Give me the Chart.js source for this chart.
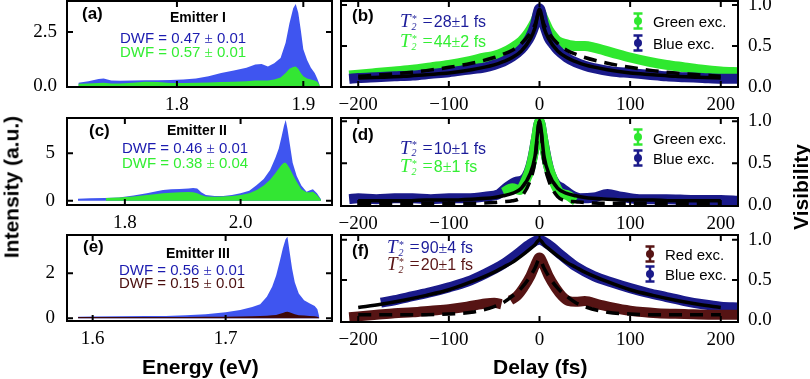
<!DOCTYPE html>
<html><head><meta charset="utf-8">
<script src="https://cdn.jsdelivr.net/npm/chart.js@4"></script>
<style>
html,body{margin:0;padding:0;background:#fff}
body{width:810px;height:379px;position:relative;overflow:hidden;font-family:"Liberation Sans",Arial,sans-serif}
.box{position:absolute}
.t{position:absolute;white-space:nowrap;line-height:1;transform:translateY(-50%);z-index:5}
.lab{font-weight:bold;font-size:17px;color:#000}
.em{font-weight:bold;font-size:14px;color:#000}
.dwf{font-size:15px}
.sf{font-family:"Liberation Serif",serif}
.t2{font-size:16px}
.T{font-family:"Liberation Serif",serif;font-style:italic;font-size:19px}
.ss{display:inline-flex;flex-direction:column;font-family:"Liberation Serif",serif;font-size:10px;line-height:8px;vertical-align:middle;margin-left:1px;margin-right:6px;font-style:italic}
.eq{font-family:"Liberation Serif",serif;font-size:18px;margin-right:1px}
.leg{font-size:15px;color:#000}
.ax{font-weight:bold;font-size:21px;color:#000}
.rot{transform:translate(-50%,-50%) rotate(-90deg)}
svg.g{position:absolute;z-index:5}
</style></head>
<body>
<div class="box" style="left:0;top:-11px;width:340px;height:128px"><canvas id="ca"></canvas></div>
<div class="box" style="left:0;top:106px;width:340px;height:129px"><canvas id="cc"></canvas></div>
<div class="box" style="left:0;top:223px;width:340px;height:128px"><canvas id="ce"></canvas></div>
<div class="box" style="left:335px;top:-11px;width:450px;height:128px"><canvas id="cb"></canvas></div>
<div class="box" style="left:335px;top:106px;width:450px;height:130px"><canvas id="cd"></canvas></div>
<div class="box" style="left:335px;top:223px;width:450px;height:129px"><canvas id="cf"></canvas></div>

<!-- left panel texts -->
<div class="t lab" style="left:82px;top:13px">(a)</div>
<div class="t em" style="left:170px;top:17px">Emitter I</div>
<div class="t dwf" style="left:120px;top:38px;color:#1c1cb0">DWF = 0.47 <span class="sf">±</span> 0.01</div>
<div class="t dwf" style="left:120px;top:52px;color:#33ee33">DWF = 0.57 <span class="sf">±</span> 0.01</div>

<div class="t lab" style="left:89px;top:130px">(c)</div>
<div class="t em" style="left:167px;top:130px">Emitter II</div>
<div class="t dwf" style="left:122px;top:147.5px;color:#1c1cb0">DWF = 0.46 <span class="sf">±</span> 0.01</div>
<div class="t dwf" style="left:122px;top:162.5px;color:#33ee33">DWF = 0.38 <span class="sf">±</span> 0.04</div>

<div class="t lab" style="left:83px;top:246px">(e)</div>
<div class="t em" style="left:166px;top:253px">Emitter III</div>
<div class="t dwf" style="left:119px;top:270px;color:#1c1cb0">DWF = 0.56 <span class="sf">±</span> 0.01</div>
<div class="t dwf" style="left:119px;top:283px;color:#4a0e0e">DWF = 0.15 <span class="sf">±</span> 0.01</div>

<!-- right panel texts -->
<div class="t lab" style="left:352px;top:15px">(b)</div>
<div class="t t2" style="left:400px;top:21px;color:#1c1c9a"><span class="T">T</span><span class="ss"><span>*</span><span>2</span></span><span class="eq">=</span>28<span class="sf">±</span>1 fs</div>
<div class="t t2" style="left:400px;top:41px;color:#33ee33"><span class="T">T</span><span class="ss"><span>*</span><span>2</span></span><span class="eq">=</span>44<span class="sf">±</span>2 fs</div>
<div class="t leg" style="left:653px;top:21px">Green exc.</div>
<div class="t leg" style="left:653px;top:42.5px">Blue exc.</div>

<div class="t lab" style="left:352px;top:134px">(d)</div>
<div class="t t2" style="left:400px;top:147.5px;color:#1c1c9a"><span class="T">T</span><span class="ss"><span>*</span><span>2</span></span><span class="eq">=</span>10<span class="sf">±</span>1 fs</div>
<div class="t t2" style="left:400px;top:166px;color:#33ee33"><span class="T">T</span><span class="ss"><span>*</span><span>2</span></span><span class="eq">=</span>8<span class="sf">±</span>1 fs</div>
<div class="t leg" style="left:653px;top:137.5px">Green exc.</div>
<div class="t leg" style="left:653px;top:158px">Blue exc.</div>

<div class="t lab" style="left:352px;top:250px">(f)</div>
<div class="t t2" style="left:387px;top:247px;color:#1c1c9a"><span class="T">T</span><span class="ss"><span>*</span><span>2</span></span><span class="eq">=</span>90<span class="sf">±</span>4 fs</div>
<div class="t t2" style="left:387px;top:264px;color:#5a1515"><span class="T">T</span><span class="ss"><span>*</span><span>2</span></span><span class="eq">=</span>20<span class="sf">±</span>1 fs</div>
<div class="t leg" style="left:665px;top:254px">Red exc.</div>
<div class="t leg" style="left:665px;top:274px">Blue exc.</div>

<!-- axis titles -->
<div class="t ax rot" style="left:11px;top:187px">Intensity (a.u.)</div>
<div class="t ax rot" style="left:800px;top:187px">Visibility</div>
<div class="t ax" style="left:142px;top:366px">Energy (eV)</div>
<div class="t ax" style="left:493px;top:366px">Delay (fs)</div>

<script>
// ================= DATA =================
// Panel (a) Emitter I spectra
const energyA = [1.722,1.730,1.738,1.742,1.748,1.755,1.765,1.775,1.785,1.795,1.805,1.815,1.825,1.835,1.845,1.855,1.862,1.867,1.872,1.877,1.882,1.886,1.889,1.892,1.894,1.896,1.898,1.900,1.903,1.906,1.909,1.911,1.913];
const blueA   = [0.15,0.22,0.33,0.35,0.25,0.24,0.25,0.27,0.27,0.28,0.30,0.35,0.45,0.60,0.72,0.85,1.00,1.02,0.90,1.05,1.30,2.00,2.90,3.60,3.80,3.40,2.60,1.70,1.20,0.85,0.60,0.35,0.05];
const greenA  = [0.10,0.12,0.14,0.15,0.12,0.12,0.15,0.20,0.18,0.14,0.14,0.15,0.16,0.18,0.20,0.22,0.25,0.25,0.26,0.30,0.40,0.60,0.80,0.88,0.90,0.80,0.60,0.45,0.35,0.30,0.25,0.20,0.03];
// Panel (c) Emitter II spectra
const energyCBlue = [1.719,1.740,1.765,1.790,1.815,1.838,1.855,1.866,1.880,1.895,1.910,1.918,1.925,1.932,1.940,1.955,1.970,1.985,2.000,2.015,2.028,2.040,2.051,2.060,2.066,2.071,2.075,2.078,2.081,2.085,2.090,2.097,2.105,2.114,2.120,2.125,2.132,2.139];
const blueC       = [0.20,0.25,0.30,0.35,0.55,0.78,1.00,1.13,1.20,1.23,1.30,1.34,1.30,0.90,0.60,0.50,0.50,0.60,0.78,1.05,1.65,2.30,3.24,4.50,5.50,6.80,7.90,8.50,7.60,6.00,4.00,2.60,1.60,0.95,1.10,1.20,0.78,0.15];
const energyCGreen = [1.767,1.790,1.815,1.838,1.855,1.866,1.880,1.895,1.910,1.918,1.925,1.932,1.940,1.955,1.970,1.985,2.000,2.015,2.028,2.040,2.051,2.060,2.066,2.071,2.075,2.078,2.081,2.085,2.090,2.097,2.105,2.114,2.120,2.125,2.132,2.139];
const greenC       = [0.30,0.35,0.45,0.60,0.70,0.78,0.85,0.90,0.92,0.90,0.80,0.60,0.45,0.42,0.45,0.50,0.60,0.80,1.13,1.60,2.20,2.90,3.40,3.80,4.00,4.00,3.80,3.40,2.80,2.00,1.20,0.90,0.90,0.95,0.60,0.10];
// Panel (e) Emitter III spectra
const energyE = [1.589,1.600,1.620,1.640,1.655,1.670,1.685,1.700,1.711,1.720,1.726,1.731,1.735,1.738,1.741,1.743,1.745,1.7465,1.748,1.750,1.752,1.755,1.759,1.763,1.767,1.769,1.7705];
const blueE   = [0.07,0.08,0.09,0.10,0.10,0.13,0.18,0.27,0.37,0.50,0.62,0.96,1.40,1.90,2.60,3.10,3.50,3.62,3.00,2.20,1.60,1.10,0.80,0.67,0.55,0.40,0.05];
const redE    = [0.06,0.06,0.06,0.06,0.06,0.06,0.07,0.07,0.08,0.09,0.10,0.11,0.13,0.15,0.20,0.24,0.28,0.29,0.27,0.22,0.18,0.14,0.12,0.10,0.09,0.07,0.02];

// Visibility panels
const fitDelay = [-200,-175,-150,-125,-100,-75,-50,-40,-30,-20,-10,-5,0,5,10,20,30,40,50,75,100,125,150,175,200];
// (b)
const delayB  = [-210,-200,-180,-160,-140,-120,-100,-80,-60,-50,-40,-30,-20,-15,-10,-5,0,5,10,15,20,30,40,50,60,80,100,120,140,160,180,200,220];
const blueB   = [0.10,0.11,0.12,0.13,0.14,0.16,0.18,0.21,0.24,0.27,0.31,0.37,0.46,0.53,0.62,0.76,0.96,0.76,0.60,0.52,0.45,0.36,0.30,0.26,0.23,0.19,0.17,0.15,0.13,0.12,0.11,0.10,0.10];
const greenB  = [0.14,0.15,0.17,0.19,0.21,0.24,0.27,0.31,0.36,0.38,0.42,0.48,0.56,0.62,0.70,0.80,0.92,0.82,0.70,0.62,0.56,0.52,0.50,0.50,0.48,0.42,0.36,0.31,0.27,0.24,0.21,0.19,0.18];
const fitBlueB  = [0.11,0.12,0.13,0.15,0.17,0.21,0.27,0.31,0.36,0.44,0.59,0.72,0.95,0.72,0.59,0.44,0.36,0.31,0.27,0.21,0.17,0.15,0.13,0.12,0.11];
const fitGreenB = [0.13,0.15,0.17,0.20,0.24,0.29,0.36,0.40,0.45,0.53,0.66,0.76,0.92,0.76,0.66,0.53,0.45,0.40,0.36,0.29,0.24,0.20,0.17,0.15,0.13];
// (d)
const delayD  = [-210,-200,-180,-160,-140,-120,-100,-80,-60,-45,-35,-25,-18,-12,-8,-4,0,4,8,12,18,25,35,45,60,75,90,110,140,170,200,220];
const blueD   = [0.07,0.08,0.07,0.08,0.08,0.07,0.08,0.08,0.10,0.13,0.22,0.28,0.30,0.40,0.55,0.78,1.00,0.78,0.55,0.38,0.25,0.20,0.12,0.08,0.09,0.13,0.10,0.07,0.07,0.06,0.06,0.05];
const delayDGreen = [-40,-30,-22,-15,-10,-6,-3,0,3,6,10,15,22,30,40];
const greenD      = [0.15,0.20,0.18,0.30,0.45,0.65,0.85,1.00,0.85,0.65,0.45,0.30,0.15,0.12,0.05];
const fitBlueD  = [0.05,0.05,0.05,0.06,0.06,0.07,0.09,0.11,0.14,0.20,0.38,0.58,1.00,0.58,0.38,0.20,0.14,0.11,0.09,0.07,0.06,0.06,0.05,0.05,0.05];
const fitGreenD = [0.02,0.02,0.02,0.02,0.02,0.02,0.03,0.04,0.05,0.10,0.30,0.52,1.00,0.52,0.30,0.10,0.05,0.04,0.03,0.02,0.02,0.02,0.02,0.02,0.02];
// (f)
const delayFBlue = [-175,-160,-140,-120,-100,-80,-60,-40,-25,-10,0,10,25,40,60,80,100,120,140,160,180,200,220];
const blueF      = [0.22,0.25,0.30,0.35,0.41,0.48,0.58,0.70,0.82,0.95,1.00,0.94,0.80,0.67,0.55,0.47,0.40,0.34,0.29,0.24,0.20,0.17,0.16];
const delayFRed  = [-210,-200,-180,-160,-140,-120,-100,-80,-60,-50,-42,-37,-32,-25,-18,-10,-5,0,5,10,18,25,32,40,50,65,80,100,130,160,190,220];
const redF       = [0.04,0.05,0.07,0.09,0.10,0.12,0.14,0.17,0.21,0.22,0.20,null,0.25,0.30,0.40,0.55,0.68,0.78,0.68,0.55,0.40,0.30,0.24,0.23,0.24,0.20,0.16,0.12,0.09,0.08,0.07,0.07];
const fitBlueF = [0.16,0.20,0.25,0.31,0.38,0.48,0.60,0.66,0.72,0.80,0.89,0.94,1.00,0.94,0.89,0.80,0.72,0.66,0.60,0.48,0.38,0.31,0.25,0.20,0.16];
const fitRedF  = [0.07,0.07,0.07,0.07,0.08,0.10,0.17,0.22,0.30,0.40,0.55,0.65,0.76,0.65,0.55,0.40,0.30,0.22,0.17,0.10,0.08,0.07,0.07,0.07,0.07];

// tick labels
const ticksAx = [1.8,1.9], ticksAy = [0,2.5];
const ticksCx = [1.8,2.0], ticksCy = [0,5];
const ticksEx = [1.6,1.7], ticksEy = [0,2];
const ticksDelay = [-200,-100,0,100,200];
const ticksVis = [0,0.5,1.0];

// ================= STYLE / HELPERS =================
const C = {
  blueFill:'#3f55f0', greenFill:'#33e633', redFill:'#3e0707',
  navy:'#1a1a8a', green:'#2fe82f', red:'#561414', black:'#000'
};
Chart.defaults.font.family = '"Liberation Serif", serif';
const tickFont = {family:'"Liberation Serif", serif', size:19};
const xy = (xs, ys) => ys.map((y,i)=>({x:xs[i], y:y}));
const f1 = v => v.toFixed(1);
const f0 = v => String(Math.round(v));
const fm = v => (v<0 ? '\u2212' : '') + Math.abs(Math.round(v));
const noPad = s => { s.paddingTop = 0; s.paddingBottom = 0; s.paddingLeft = 0; s.paddingRight = 0; };

const framePlugin = {
  id:'frame',
  afterDatasetsDraw(chart){
    const {ctx, chartArea:a, scales:{x,y}} = chart;
    ctx.save();
    ctx.strokeStyle='#000'; ctx.lineWidth=2; ctx.lineCap='butt';
    const L=6;
    ctx.beginPath();
    x.ticks.forEach(t=>{
      const p = x.getPixelForValue(t.value);
      if (p < a.left+2 || p > a.right-2) return;
      ctx.moveTo(p,a.bottom); ctx.lineTo(p,a.bottom-L);
      ctx.moveTo(p,a.top); ctx.lineTo(p,a.top+L);
    });
    y.ticks.forEach(t=>{
      const p = y.getPixelForValue(t.value);
      if (p < a.top+2 || p > a.bottom-2) return;
      ctx.moveTo(a.left,p); ctx.lineTo(a.left+L,p);
      ctx.moveTo(a.right,p); ctx.lineTo(a.right-L,p);
    });
    ctx.stroke();
    ctx.strokeRect(a.left, a.top, a.right-a.left, a.bottom-a.top);
    ctx.restore();
  }
};

function panel(id, cfg){
  return new Chart(document.getElementById(id), {
    type:'line',
    data:{datasets:cfg.datasets},
    options:{
      responsive:true, maintainAspectRatio:false, animation:false,
      layout:{padding:cfg.pad, autoPadding:false},
      plugins:{legend:{display:false}, tooltip:{enabled:false}},
      elements:{point:{radius:0, hoverRadius:0}},
      scales:{
        x:{type:'linear', min:cfg.xmin, max:cfg.xmax,
           afterBuildTicks:s=>{s.ticks = cfg.xt.map(v=>({value:v}));},
           afterFit:s=>{s.height = 30; noPad(s);},
           grid:{display:false, drawTicks:false}, border:{display:false},
           ticks:{padding:7, font:tickFont, color:'#000', autoSkip:false, maxRotation:0, callback:v=>cfg.xf(v)}},
        y:{type:'linear', position:cfg.ypos, min:cfg.ymin, max:cfg.ymax,
           afterBuildTicks:s=>{s.ticks = cfg.yt.map(v=>({value:v}));},
           afterFit:s=>{s.width = cfg.yw; noPad(s);},
           grid:{display:false, drawTicks:false}, border:{display:false},
           ticks:{padding:cfg.ypad, font:tickFont, color:'#000', autoSkip:false, callback:v=>cfg.yf(v)}}
      }
    },
    plugins:[framePlugin]
  });
}

const area = (data, color, order) => ({data, backgroundColor:color, borderWidth:0, fill:'origin', pointRadius:0, tension:0, order});
const band = (data, color, order) => ({data, borderColor:color, borderWidth:10, fill:false, pointRadius:0, cubicInterpolationMode:'monotone', spanGaps:false, borderCapStyle:'butt', order});
const fit = (data, dashed, order) => ({data, borderColor:'#000', borderWidth:3.5, borderDash:dashed?[13,8]:[], fill:false, pointRadius:0, cubicInterpolationMode:'monotone', order});

const leftPad = {left:0, right:8, top:12, bottom:0};
const rightPad = {left:6, right:0, top:12, bottom:0};

panel('ca', {pad:leftPad, xmin:1.713, xmax:1.9227, ymin:-0.046, ymax:3.94, xt:ticksAx, yt:ticksAy, xf:f1, yf:f1, ypos:'left', yw:67, ypad:10,
  datasets:[area(xy(energyA,greenA),C.greenFill,1), area(xy(energyA,blueA),C.blueFill,2)]});
panel('cc', {pad:leftPad, xmin:1.700, xmax:2.158, ymin:-0.45, ymax:8.72, xt:ticksCx, yt:ticksCy, xf:f1, yf:f0, ypos:'left', yw:67, ypad:12,
  datasets:[area(xy(energyCGreen,greenC),C.greenFill,1), area(xy(energyCBlue,blueC),C.blueFill,2)]});
panel('ce', {pad:leftPad, xmin:1.5807, xmax:1.780, ymin:-0.12, ymax:3.70, xt:ticksEx, yt:ticksEy, xf:f1, yf:f0, ypos:'left', yw:67, ypad:12,
  datasets:[area(xy(energyE,redE),C.redFill,1), area(xy(energyE,blueE),C.blueFill,2)]});

panel('cb', {pad:rightPad, xmin:-219, xmax:219, ymin:0.0, ymax:1.05, xt:ticksDelay, yt:ticksVis, xf:fm, yf:f1, ypos:'right', yw:47, ypad:10,
  datasets:[fit(xy(fitDelay,fitBlueB),false,0), fit(xy(fitDelay,fitGreenB),true,0),
            band(xy(delayB,blueB),C.navy,1), band(xy(delayB,greenB),C.green,2)]});
panel('cd', {pad:rightPad, xmin:-219, xmax:219, ymin:-0.012, ymax:1.04, xt:ticksDelay, yt:ticksVis, xf:fm, yf:f1, ypos:'right', yw:47, ypad:10,
  datasets:[fit(xy(fitDelay,fitBlueD),false,0), fit(xy(fitDelay,fitGreenD),true,0),
            band(xy(delayDGreen,greenD),C.green,1), band(xy(delayD,blueD),C.navy,2)]});
panel('cf', {pad:rightPad, xmin:-219, xmax:219, ymin:-0.02, ymax:1.06, xt:ticksDelay, yt:ticksVis, xf:fm, yf:f1, ypos:'right', yw:47, ypad:10,
  datasets:[fit(xy(fitDelay,fitBlueF),false,0), fit(xy(fitDelay,fitRedF),true,0),
            band(xy(delayFRed,redF),C.red,1), band(xy(delayFBlue,blueF),C.navy,2)]});

// legend glyphs (errorbar + marker)
function glyph(cx, cy, color){
  const ns='http://www.w3.org/2000/svg';
  const s=document.createElementNS(ns,'svg');
  s.setAttribute('class','g'); s.setAttribute('width','12'); s.setAttribute('height','18');
  s.style.left=(cx-6)+'px'; s.style.top=(cy-9)+'px';
  s.innerHTML=`<g stroke="${color}" stroke-width="2.5"><line x1="6" y1="1" x2="6" y2="17"/><line x1="1.5" y1="1.5" x2="10.5" y2="1.5"/><line x1="1.5" y1="16.5" x2="10.5" y2="16.5"/></g><circle cx="6" cy="9" r="4" fill="${color}"/>`;
  document.body.appendChild(s);
}
glyph(638,21,C.green); glyph(638,43,C.navy);
glyph(638,137,C.green); glyph(638,158,C.navy);
glyph(650,254,C.red); glyph(650,274,C.navy);
</script>
</body></html>
